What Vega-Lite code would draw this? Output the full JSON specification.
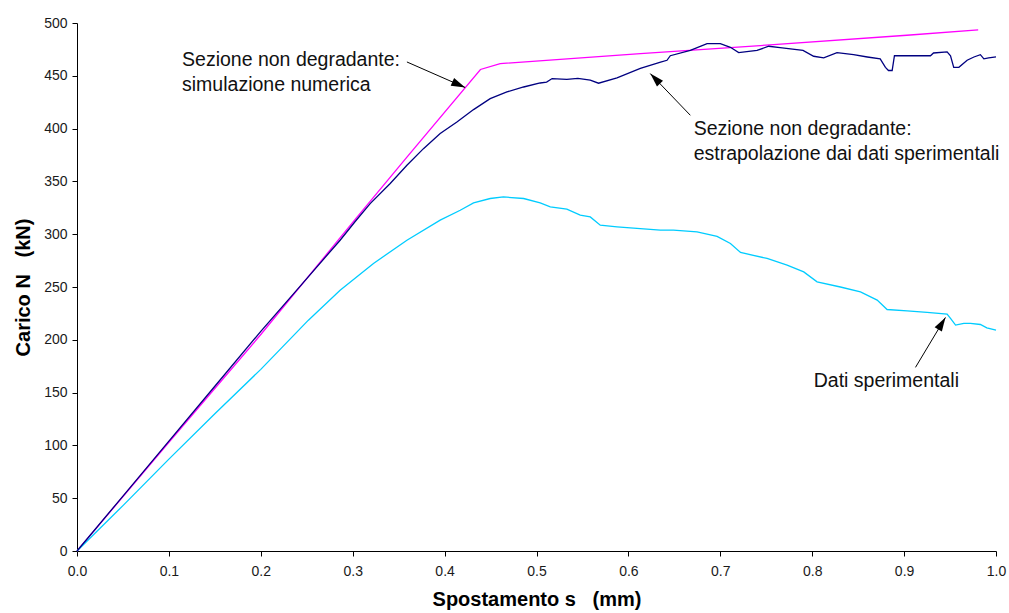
{
  "$schema": "https://vega.github.io/schema/vega-lite/v6.json",
  "width": 919,
  "height": 528,
  "autosize": "none",
  "padding": {"left": 77, "top": 23, "right": 13, "bottom": 62},
  "background": "white",
  "config": {
    "view": {"stroke": null},
    "axis": {
      "grid": false,
      "domainColor": "black",
      "domainWidth": 1,
      "tickColor": "black",
      "tickWidth": 1,
      "tickSize": 5,
      "labelFont": "Liberation Sans",
      "labelFontSize": 14,
      "labelColor": "#1a1a1a",
      "labelFlush": false,
      "labelOverlap": false,
      "titleFont": "Liberation Sans",
      "titleFontSize": 20,
      "titleFontWeight": "bold",
      "titleColor": "black"
    }
  },
  "datasets": {
    "curves": [
      {"series": "sim", "s": 0, "n": 0},
      {"series": "sim", "s": 0.1, "n": 103},
      {"series": "sim", "s": 0.2, "n": 205},
      {"series": "sim", "s": 0.3027, "n": 314},
      {"series": "sim", "s": 0.359, "n": 373},
      {"series": "sim", "s": 0.439, "n": 456},
      {"series": "sim", "s": 0.4605, "n": 461.5},
      {"series": "sim", "s": 0.613, "n": 471},
      {"series": "sim", "s": 0.758, "n": 479.5},
      {"series": "sim", "s": 0.903, "n": 488.4},
      {"series": "sim", "s": 0.9806, "n": 493.4},

      {"series": "exp", "s": 0, "n": 0},
      {"series": "exp", "s": 0.05, "n": 43},
      {"series": "exp", "s": 0.1, "n": 87},
      {"series": "exp", "s": 0.15, "n": 130},
      {"series": "exp", "s": 0.2, "n": 172},
      {"series": "exp", "s": 0.2518, "n": 218.6},
      {"series": "exp", "s": 0.2863, "n": 247},
      {"series": "exp", "s": 0.3226, "n": 272.3},
      {"series": "exp", "s": 0.359, "n": 294.3},
      {"series": "exp", "s": 0.3952, "n": 313.3},
      {"series": "exp", "s": 0.417, "n": 322.7},
      {"series": "exp", "s": 0.4315, "n": 329.6},
      {"series": "exp", "s": 0.4496, "n": 333.8},
      {"series": "exp", "s": 0.464, "n": 335.3},
      {"series": "exp", "s": 0.486, "n": 333.8},
      {"series": "exp", "s": 0.504, "n": 329.6},
      {"series": "exp", "s": 0.515, "n": 325.9},
      {"series": "exp", "s": 0.533, "n": 323.7},
      {"series": "exp", "s": 0.5476, "n": 318},
      {"series": "exp", "s": 0.5585, "n": 316.4},
      {"series": "exp", "s": 0.5694, "n": 308.5},
      {"series": "exp", "s": 0.5876, "n": 307},
      {"series": "exp", "s": 0.6057, "n": 305.7},
      {"series": "exp", "s": 0.6347, "n": 303.8},
      {"series": "exp", "s": 0.649, "n": 303.8},
      {"series": "exp", "s": 0.6747, "n": 302.2},
      {"series": "exp", "s": 0.6965, "n": 298},
      {"series": "exp", "s": 0.711, "n": 291.2},
      {"series": "exp", "s": 0.722, "n": 282.7},
      {"series": "exp", "s": 0.7509, "n": 277},
      {"series": "exp", "s": 0.7727, "n": 270.7},
      {"series": "exp", "s": 0.7908, "n": 264.3},
      {"series": "exp", "s": 0.8053, "n": 254.9},
      {"series": "exp", "s": 0.8307, "n": 250},
      {"series": "exp", "s": 0.8525, "n": 245.4},
      {"series": "exp", "s": 0.8707, "n": 237.6},
      {"series": "exp", "s": 0.8815, "n": 228.7},
      {"series": "exp", "s": 0.9033, "n": 227.4},
      {"series": "exp", "s": 0.925, "n": 225.9},
      {"series": "exp", "s": 0.9468, "n": 224.3},
      {"series": "exp", "s": 0.9505, "n": 220.2},
      {"series": "exp", "s": 0.956, "n": 213.9},
      {"series": "exp", "s": 0.965, "n": 215.5},
      {"series": "exp", "s": 0.9722, "n": 215.5},
      {"series": "exp", "s": 0.983, "n": 214.5},
      {"series": "exp", "s": 0.99, "n": 211.3},
      {"series": "exp", "s": 1.0, "n": 209.2},

      {"series": "extr", "s": 0, "n": 0},
      {"series": "extr", "s": 0.05, "n": 52},
      {"series": "extr", "s": 0.1, "n": 104},
      {"series": "extr", "s": 0.15, "n": 156},
      {"series": "extr", "s": 0.2, "n": 208},
      {"series": "extr", "s": 0.25, "n": 258},
      {"series": "extr", "s": 0.2863, "n": 294.3},
      {"series": "extr", "s": 0.3027, "n": 312},
      {"series": "extr", "s": 0.319, "n": 329},
      {"series": "extr", "s": 0.3408, "n": 348},
      {"series": "extr", "s": 0.359, "n": 365.3},
      {"series": "extr", "s": 0.377, "n": 381},
      {"series": "extr", "s": 0.3952, "n": 395.3},
      {"series": "extr", "s": 0.4134, "n": 406.3},
      {"series": "extr", "s": 0.4315, "n": 418},
      {"series": "extr", "s": 0.4496, "n": 428.4},
      {"series": "extr", "s": 0.4678, "n": 434.7},
      {"series": "extr", "s": 0.486, "n": 439.4},
      {"series": "extr", "s": 0.504, "n": 443.2},
      {"series": "extr", "s": 0.511, "n": 444},
      {"series": "extr", "s": 0.517, "n": 447.4},
      {"series": "extr", "s": 0.533, "n": 446.7},
      {"series": "extr", "s": 0.545, "n": 447.5},
      {"series": "extr", "s": 0.5585, "n": 446},
      {"series": "extr", "s": 0.5675, "n": 443},
      {"series": "extr", "s": 0.5876, "n": 448},
      {"series": "extr", "s": 0.613, "n": 457},
      {"series": "extr", "s": 0.635, "n": 463},
      {"series": "extr", "s": 0.642, "n": 464.7},
      {"series": "extr", "s": 0.6456, "n": 469},
      {"series": "extr", "s": 0.6674, "n": 474},
      {"series": "extr", "s": 0.6856, "n": 480.5},
      {"series": "extr", "s": 0.7, "n": 480.5},
      {"series": "extr", "s": 0.711, "n": 477},
      {"series": "extr", "s": 0.72, "n": 472},
      {"series": "extr", "s": 0.74, "n": 474},
      {"series": "extr", "s": 0.7527, "n": 478},
      {"series": "extr", "s": 0.765, "n": 476.7},
      {"series": "extr", "s": 0.79, "n": 474},
      {"series": "extr", "s": 0.8016, "n": 468.5},
      {"series": "extr", "s": 0.8125, "n": 467},
      {"series": "extr", "s": 0.827, "n": 472},
      {"series": "extr", "s": 0.845, "n": 470},
      {"series": "extr", "s": 0.86, "n": 467.8},
      {"series": "extr", "s": 0.874, "n": 466},
      {"series": "extr", "s": 0.8797, "n": 458},
      {"series": "extr", "s": 0.883, "n": 455},
      {"series": "extr", "s": 0.887, "n": 455},
      {"series": "extr", "s": 0.8895, "n": 469},
      {"series": "extr", "s": 0.9287, "n": 469},
      {"series": "extr", "s": 0.932, "n": 471.6},
      {"series": "extr", "s": 0.9468, "n": 472.6},
      {"series": "extr", "s": 0.9505, "n": 469},
      {"series": "extr", "s": 0.954, "n": 458},
      {"series": "extr", "s": 0.9596, "n": 458},
      {"series": "extr", "s": 0.9686, "n": 464.7},
      {"series": "extr", "s": 0.976, "n": 467.8},
      {"series": "extr", "s": 0.983, "n": 470},
      {"series": "extr", "s": 0.9868, "n": 466},
      {"series": "extr", "s": 0.992, "n": 467},
      {"series": "extr", "s": 1.0, "n": 468}
    ],
    "labels": [
      {"s": 0.1143, "n": 465.2, "label": "Sezione non degradante:"},
      {"s": 0.1143, "n": 441.0, "label": "simulazione numerica"},
      {"s": 0.671, "n": 400.0, "label": "Sezione non degradante:"},
      {"s": 0.671, "n": 376.4, "label": "estrapolazione dai dati sperimentali"},
      {"s": 0.8017, "n": 160.6, "label": "Dati sperimentali"}
    ],
    "arrows": [
      {"id": "a1", "s": 0.359, "n": 463.1, "s2": 0.4224, "n2": 438.9},
      {"id": "a2", "s": 0.6674, "n": 412.6, "s2": 0.6238, "n2": 452.1},
      {"id": "a3", "s": 0.9124, "n": 173.9, "s2": 0.945, "n2": 221.2}
    ]
  },
  "layer": [
    {
      "data": {"name": "curves"},
      "transform": [{"filter": "datum.series === 'sim'"}],
      "mark": {"type": "line", "color": "#FF00FF", "strokeWidth": 1.3},
      "encoding": {
        "x": {
          "field": "s", "type": "quantitative",
          "scale": {"domain": [0, 1], "nice": false, "zero": false},
          "axis": {
            "title": "Spostamento s\u00a0\u00a0\u00a0(mm)",
            "values": [0, 0.1, 0.2, 0.3, 0.4, 0.5, 0.6, 0.7, 0.8, 0.9, 1.0],
            "format": ".1f",
            "labelFontSize": 14,
            "labelFlush": false,
            "labelPadding": 8,
            "titlePadding": 11
          }
        },
        "y": {
          "field": "n", "type": "quantitative",
          "scale": {"domain": [0, 500], "nice": false},
          "axis": {
            "title": "Carico N\u00a0\u00a0\u00a0(kN)",
            "values": [0, 50, 100, 150, 200, 250, 300, 350, 400, 450, 500],
            "labelFontSize": 14,
            "labelFlush": false,
            "labelPadding": 5,
            "titlePadding": 10
          }
        }
      }
    },
    {
      "data": {"name": "curves"},
      "transform": [{"filter": "datum.series === 'exp'"}],
      "mark": {"type": "line", "color": "#00CCFF", "strokeWidth": 1.3},
      "encoding": {
        "x": {"field": "s", "type": "quantitative"},
        "y": {"field": "n", "type": "quantitative"}
      }
    },
    {
      "data": {"name": "curves"},
      "transform": [{"filter": "datum.series === 'extr'"}],
      "mark": {"type": "line", "color": "#000080", "strokeWidth": 1.3},
      "encoding": {
        "x": {"field": "s", "type": "quantitative"},
        "y": {"field": "n", "type": "quantitative"}
      }
    },
    {
      "data": {"name": "arrows"},
      "mark": {"type": "rule", "color": "black", "strokeWidth": 1},
      "encoding": {
        "x": {"field": "s", "type": "quantitative"},
        "y": {"field": "n", "type": "quantitative"},
        "x2": {"field": "s2"},
        "y2": {"field": "n2"}
      }
    },
    {
      "data": {"name": "arrows"},
      "transform": [{"filter": "datum.id === 'a1'"}],
      "mark": {"type": "point", "shape": "M0,0L-0.3,1L0.3,1Z", "filled": true, "color": "black", "opacity": 1, "size": 784, "angle": 114},
      "encoding": {
        "x": {"field": "s2", "type": "quantitative"},
        "y": {"field": "n2", "type": "quantitative"}
      }
    },
    {
      "data": {"name": "arrows"},
      "transform": [{"filter": "datum.id === 'a2'"}],
      "mark": {"type": "point", "shape": "M0,0L-0.3,1L0.3,1Z", "filled": true, "color": "black", "opacity": 1, "size": 784, "angle": 316},
      "encoding": {
        "x": {"field": "s2", "type": "quantitative"},
        "y": {"field": "n2", "type": "quantitative"}
      }
    },
    {
      "data": {"name": "arrows"},
      "transform": [{"filter": "datum.id === 'a3'"}],
      "mark": {"type": "point", "shape": "M0,0L-0.3,1L0.3,1Z", "filled": true, "color": "black", "opacity": 1, "size": 784, "angle": 31},
      "encoding": {
        "x": {"field": "s2", "type": "quantitative"},
        "y": {"field": "n2", "type": "quantitative"}
      }
    },
    {
      "data": {"name": "labels"},
      "mark": {"type": "text", "align": "left", "baseline": "middle", "font": "Liberation Sans", "fontSize": 19.5, "color": "#111111"},
      "encoding": {
        "x": {"field": "s", "type": "quantitative"},
        "y": {"field": "n", "type": "quantitative"},
        "text": {"field": "label"}
      }
    }
  ]
}
